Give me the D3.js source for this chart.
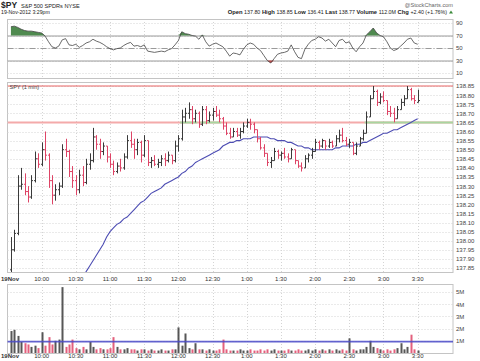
<!DOCTYPE html>
<html>
<head>
<meta charset="utf-8">
<script src="https://cdn.jsdelivr.net/npm/d3@7/dist/d3.min.js"></script>
<style>
  body { margin: 0; background: #fff; }
  svg { display: block; font-family: "Liberation Sans", Arial, sans-serif; }
</style>
</head>
<body>
<svg id="chart" width="480" height="361"></svg>
<script>
// 3-minute bars, first one ends 9:33, last one 3:30
var firstBar = 573, barStep = 3;

var opens = [137.84,137.95,138.04,138.30,138.31,138.27,138.24,138.33,138.45,138.42,
  138.50,138.47,138.33,138.25,138.28,138.30,138.50,138.49,138.38,138.33,
  138.28,138.36,138.32,138.42,138.44,138.57,138.53,138.49,138.52,138.46,
  138.42,138.38,138.41,138.40,138.46,138.55,138.53,138.50,138.54,138.47,
  138.55,138.43,138.44,138.42,138.43,138.45,138.44,138.47,138.44,138.52,
  138.56,138.68,138.70,138.72,138.67,138.70,138.64,138.72,138.66,138.69,
  138.71,138.69,138.67,138.63,138.59,138.57,138.60,138.58,138.60,138.63,
  138.65,138.64,138.61,138.56,138.51,138.48,138.43,138.44,138.49,138.47,
  138.48,138.46,138.45,138.50,138.44,138.41,138.40,138.45,138.47,138.49,
  138.54,138.52,138.55,138.52,138.54,138.52,138.56,138.58,138.55,138.53,
  138.54,138.48,138.52,138.56,138.59,138.68,138.78,138.82,138.76,138.79,
  138.77,138.71,138.70,138.67,138.72,138.76,138.78,138.83,138.78,138.76];
var highs = [138.02,138.06,138.36,138.40,138.37,138.30,138.36,138.49,138.48,138.54,
  138.60,138.48,138.36,138.31,138.32,138.53,138.56,138.50,138.41,138.36,
  138.39,138.41,138.45,138.48,138.62,138.58,138.56,138.54,138.52,138.48,
  138.44,138.43,138.45,138.48,138.58,138.60,138.56,138.56,138.55,138.58,
  138.55,138.46,138.47,138.45,138.47,138.48,138.49,138.47,138.55,138.58,
  138.72,138.73,138.76,138.74,138.72,138.71,138.74,138.74,138.71,138.73,
  138.74,138.72,138.68,138.65,138.62,138.62,138.62,138.62,138.65,138.67,
  138.67,138.65,138.61,138.57,138.53,138.48,138.46,138.51,138.50,138.49,
  138.51,138.48,138.51,138.50,138.44,138.43,138.47,138.48,138.51,138.56,
  138.55,138.56,138.55,138.56,138.55,138.58,138.61,138.62,138.57,138.56,
  138.54,138.54,138.57,138.61,138.71,138.80,138.85,138.83,138.81,138.82,
  138.77,138.74,138.73,138.74,138.78,138.80,138.85,138.84,138.80,138.83];
var lows = [137.82,137.94,138.03,138.28,138.25,138.21,138.23,138.32,138.40,138.41,
  138.44,138.29,138.20,138.22,138.25,138.29,138.46,138.35,138.29,138.25,
  138.26,138.30,138.31,138.39,138.43,138.50,138.45,138.47,138.43,138.40,
  138.36,138.37,138.38,138.39,138.45,138.51,138.45,138.47,138.43,138.46,
  138.41,138.40,138.41,138.40,138.41,138.41,138.43,138.42,138.43,138.49,
  138.55,138.65,138.67,138.64,138.65,138.62,138.63,138.64,138.65,138.66,
  138.68,138.65,138.61,138.58,138.56,138.57,138.57,138.56,138.59,138.62,
  138.61,138.59,138.54,138.50,138.46,138.41,138.40,138.44,138.45,138.44,
  138.45,138.43,138.45,138.42,138.40,138.38,138.40,138.43,138.45,138.49,
  138.50,138.51,138.50,138.51,138.51,138.52,138.54,138.54,138.52,138.51,
  138.47,138.47,138.52,138.55,138.59,138.68,138.78,138.74,138.75,138.76,
  138.69,138.68,138.65,138.67,138.72,138.74,138.78,138.77,138.75,138.76];
var closes = [137.95,138.04,138.30,138.31,138.27,138.24,138.33,138.45,138.42,138.50,
  138.47,138.33,138.25,138.28,138.30,138.50,138.49,138.38,138.33,138.28,
  138.36,138.32,138.42,138.44,138.57,138.53,138.49,138.52,138.46,138.42,
  138.38,138.41,138.40,138.46,138.55,138.53,138.50,138.54,138.47,138.55,
  138.43,138.44,138.42,138.43,138.45,138.44,138.47,138.44,138.52,138.56,
  138.68,138.70,138.72,138.67,138.70,138.64,138.72,138.66,138.69,138.71,
  138.69,138.67,138.63,138.59,138.57,138.60,138.58,138.60,138.63,138.65,
  138.64,138.61,138.56,138.51,138.48,138.43,138.44,138.49,138.47,138.48,
  138.46,138.45,138.50,138.44,138.41,138.40,138.45,138.47,138.49,138.54,
  138.52,138.55,138.52,138.54,138.52,138.56,138.58,138.55,138.53,138.54,
  138.48,138.52,138.56,138.59,138.68,138.78,138.82,138.76,138.79,138.77,
  138.71,138.70,138.67,138.72,138.76,138.78,138.83,138.78,138.77,138.77];
// volume in millions of shares
var volumes = [1.8,1.9,1.4,0.9,0.8,0.7,0.5,0.6,0.4,1.7,
  0.6,1.3,0.7,1.0,1.1,5.4,0.5,0.7,1.1,0.4,
  0.3,0.5,0.3,0.9,0.5,0.3,0.4,0.3,0.3,0.4,
  1.3,0.5,0.3,0.3,0.4,0.3,0.3,0.2,0.3,0.3,
  0.2,0.3,0.2,0.2,0.3,0.2,0.2,0.3,0.3,2.1,
  0.6,1.6,0.4,0.3,0.8,0.3,0.3,0.2,0.3,0.2,
  0.2,0.3,1.1,0.3,0.2,0.2,0.2,0.3,0.2,0.2,
  0.3,0.2,0.2,0.3,0.2,0.3,0.2,0.3,0.2,0.2,
  0.2,0.3,0.2,0.2,0.3,0.2,0.2,0.3,0.2,0.3,
  0.2,0.3,0.2,0.3,0.2,0.3,0.2,0.3,0.2,1.2,
  0.3,0.2,0.3,0.3,0.5,1.0,0.5,0.4,0.3,0.2,
  0.3,0.2,0.3,0.4,0.8,0.3,0.5,1.5,0.3,0.2];
var rsiValues = [84,85,83,80,78,77,77,76,75,74,
  69,60,52,50,53,63,65,55,54,56,
  51,54,58,60,64,61,59,56,52,49,
  47,49,50,54,57,59,53,54,52,55,
  45,44,43,44,45,44,47,49,55,62,
  76,73,72,70,69,64,71,60,53,56,
  58,55,52,45,37,42,41,39,48,55,
  58,56,50,46,38,30,26,33,40,42,
  43,45,55,44,35,33,48,56,62,64,
  68,66,61,64,58,52,62,64,58,60,
  50,44,52,58,71,76,82,74,70,68,
  60,50,46,48,53,58,64,66,58,56];
// long moving average (starts well below the visible range)
var maValues = [null,null,null,null,null,null,null,null,null,null,
  null,null,null,null,null,null,null,null,null,null,
  null,137.80,137.83,137.86,137.89,137.92,137.95,137.98,138.02,138.05,
  138.07,138.09,138.10,138.12,138.13,138.15,138.17,138.19,138.21,138.22,
  138.24,138.26,138.27,138.28,138.29,138.31,138.32,138.33,138.34,138.35,
  138.37,138.38,138.40,138.41,138.43,138.44,138.45,138.46,138.47,138.48,
  138.49,138.50,138.52,138.53,138.54,138.54,138.55,138.55,138.56,138.56,
  138.56,138.57,138.57,138.57,138.57,138.57,138.56,138.56,138.55,138.55,
  138.55,138.54,138.54,138.53,138.52,138.52,138.51,138.51,138.50,138.50,
  138.50,138.50,138.50,138.50,138.50,138.51,138.51,138.52,138.52,138.52,
  138.52,138.53,138.53,138.54,138.54,138.55,138.56,138.57,138.58,138.59,
  138.59,138.60,138.61,138.61,138.62,138.63,138.64,138.65,138.66,138.67];

var dayHigh = 138.85, refLevel = 138.65, volAvg = 0.93;
var timeTicks = [600,630,660,690,720,750,780,810,840,870,900,930];
var timeLabels = ["10:00","10:30","11:00","11:30","12:00","12:30","1:00","1:30","2:00","2:30","3:00","3:30"];
var rsiTicks = [10,30,50,70,90];
var volTicks = [1,2,3,4,5];

var quote = [["Open","137.80"],["High","138.85"],["Low","136.41"],["Last","138.77"],
  ["Volume","112.0M"],["Chg","+2.40 (+1.76%)"]];

var upColour = "#3a3a3a", downColour = "#de4466";

var svg = d3.select("#chart");
var L = 7.5, R = 453;

var bars = opens.map(function (o, i) {
  return { t: firstBar + i * barStep, o: o, h: highs[i], l: lows[i], c: closes[i],
    v: volumes[i], rsi: rsiValues[i], ma: maValues[i] };
});
var colourOf = d => d.c < d.o ? downColour : upColour;

var x = d3.scaleLinear().domain([570, 961]).range([L, R]);
var yRsi = d3.scaleLinear().domain([10, 90]).range([73, 23]);
var yPrice = d3.scaleLinear().domain([137.85, 138.85]).range([268, 86]);
var yVol = d3.scaleLinear().domain([0, 5]).range([353, 292]);

var panels = { rsi: [19, 78], price: [82, 272], vol: [284, 353] };

// ---- header
var head = svg.append("g").attr("fill", "#222");
head.append("text").attr("x", 1).attr("y", 7.5).attr("font-size", 8.5).attr("font-weight", "bold").text("$PY");
head.append("text").attr("x", 21).attr("y", 7.5).attr("font-size", 5.6).text("S&P 500 SPDRs  NYSE");
head.append("text").attr("x", 1).attr("y", 14).attr("font-size", 5.2).text("19-Nov-2012 3:29pm");
head.append("text").attr("x", 453).attr("y", 6.5).attr("font-size", 5.6).attr("fill", "#666")
  .attr("text-anchor", "end").text("@StockCharts.com");
var qt = head.append("text").attr("x", 447).attr("y", 14).attr("font-size", 5.3).attr("text-anchor", "end");
quote.forEach(function (q, i) {
  qt.append("tspan").attr("font-weight", "bold").attr("font-size", 5.8).text((i ? "  " : "") + q[0] + " ");
  qt.append("tspan").text(q[1]);
});
head.append("path").attr("d", "M449,13.5h4l-2,-3z").attr("fill", "#3a8a3a");

// ---- panel frames and grids
Object.keys(panels).forEach(function (k) {
  var p = panels[k];
  var g = svg.append("g");
  g.selectAll("line.v").data(timeTicks).join("line")
    .attr("x1", d => Math.round(x(d)) + 0.5).attr("x2", d => Math.round(x(d)) + 0.5)
    .attr("y1", p[0]).attr("y2", p[1])
    .attr("stroke", "#d4d4d4").attr("stroke-dasharray", "1,2");
  g.append("rect").attr("x", L).attr("y", p[0] + 0.5).attr("width", R - L).attr("height", p[1] - p[0])
    .attr("fill", "none").attr("stroke", "#c4c4c4");
});

function rightAxis(scale, ticks, fmt) {
  var g = svg.append("g");
  g.selectAll("line").data(ticks).join("line")
    .attr("x1", L).attr("x2", R)
    .attr("y1", d => Math.round(scale(d)) + 0.5).attr("y2", d => Math.round(scale(d)) + 0.5)
    .attr("stroke", "#d4d4d4").attr("stroke-dasharray", "1,2");
  svg.append("g").attr("transform", `translate(${R + 3},0)`)
    .call(d3.axisRight(scale).tickValues(ticks).tickFormat(fmt).tickSize(0).tickPadding(0))
    .call(a => a.select(".domain").remove())
    .call(a => a.selectAll("text").attr("font-size", 6).attr("fill", "#444")
      .attr("font-family", "'Liberation Sans', Arial, sans-serif"));
}

// ---- RSI panel
rightAxis(yRsi, rsiTicks, d3.format("d"));
[[70, null], [30, null], [50, "6,2,1,2"]].forEach(function (h) {
  svg.append("line").attr("x1", L).attr("x2", R)
    .attr("y1", yRsi(h[0]) + 0.5).attr("y2", yRsi(h[0]) + 0.5)
    .attr("stroke", "#9a9a9a").attr("stroke-dasharray", h[1]);
});
svg.append("path").datum(bars)
  .attr("d", d3.area().x(d => x(d.t)).y0(yRsi(70)).y1(d => yRsi(Math.max(d.rsi, 70))))
  .attr("fill", "#4f8a4f");
svg.append("path").datum(bars)
  .attr("d", d3.area().x(d => x(d.t)).y0(yRsi(30)).y1(d => yRsi(Math.min(d.rsi, 30))))
  .attr("fill", "#c04848");
svg.append("path").datum(bars)
  .attr("d", d3.line().x(d => x(d.t)).y(d => yRsi(d.rsi)))
  .attr("fill", "none").attr("stroke", "#444").attr("stroke-width", 0.8);

// ---- price panel
rightAxis(yPrice, d3.range(0, 21).map(i => +(137.85 + i * 0.05).toFixed(2)), d3.format(".2f"));
svg.append("clipPath").attr("id", "clipPrice").append("rect")
  .attr("x", L).attr("y", panels.price[0]).attr("width", R - L).attr("height", panels.price[1] - panels.price[0]);
var pg = svg.append("g").attr("clip-path", "url(#clipPrice)");

pg.append("line").attr("x1", L).attr("x2", R).attr("y1", yPrice(dayHigh)).attr("y2", yPrice(dayHigh))
  .attr("stroke", "#e86464").attr("stroke-width", 1);
pg.append("line").attr("x1", L).attr("x2", R).attr("y1", yPrice(refLevel)).attr("y2", yPrice(refLevel))
  .attr("stroke", "#f4aaaa").attr("stroke-width", 2);
// green where the bar closes above the level
var runs = [], run = null;
bars.forEach(function (d, i) {
  if (d.c > refLevel) {
    if (!run) { run = [d.t - barStep / 2, d.t + barStep / 2]; runs.push(run); }
    else run[1] = d.t + barStep / 2;
    if (i === bars.length - 1) run[1] = x.domain()[1];
  } else run = null;
});
pg.selectAll("line.up").data(runs).join("line")
  .attr("x1", d => x(d[0])).attr("x2", d => x(d[1]))
  .attr("y1", yPrice(refLevel)).attr("y2", yPrice(refLevel))
  .attr("stroke", "#a8d6a0").attr("stroke-width", 2);

pg.append("path").datum(bars.filter(d => d.ma != null))
  .attr("d", d3.line().x(d => x(d.t)).y(d => yPrice(d.ma)))
  .attr("fill", "none").attr("stroke", "#4d4db3").attr("stroke-width", 1.1);

pg.selectAll("path.bar").data(bars).join("path")
  .attr("d", function (d) {
    var X = Math.round(x(d.t)) + 0.5;
    return `M${X},${yPrice(d.h)}V${yPrice(d.l)}M${X - 1.5},${yPrice(d.o)}H${X}M${X},${yPrice(d.c)}H${X + 1.5}`;
  })
  .attr("fill", "none").attr("stroke", colourOf).attr("stroke-width", 1);

svg.append("text").attr("x", L + 2).attr("y", 89).attr("font-size", 5.5).attr("fill", "#444").text("SPY (1 min)");

// ---- volume panel
rightAxis(yVol, volTicks, d => d + "M");
svg.selectAll("rect.vol").data(bars).join("rect")
  .attr("x", d => Math.round(x(d.t)) - 0.5).attr("width", 2)
  .attr("y", d => yVol(d.v)).attr("height", d => yVol(0) - yVol(d.v))
  .attr("fill", colourOf).attr("opacity", 0.85);
svg.append("line").attr("x1", L).attr("x2", R).attr("y1", yVol(volAvg)).attr("y2", yVol(volAvg))
  .attr("stroke", "#4a4ac8").attr("stroke-width", 1.6).attr("opacity", 0.85);

// ---- time labels under price and volume panels
[281, 358].forEach(function (ty) {
  var g = svg.append("g").attr("font-size", 6).attr("fill", "#333");
  g.append("text").attr("x", 1).attr("y", ty).attr("font-weight", "bold").text("19Nov");
  g.selectAll("text.t").data(timeTicks).join("text")
    .attr("x", d => x(d)).attr("y", ty).attr("text-anchor", "middle")
    .text((d, i) => timeLabels[i]);
});
</script>
</body>
</html>
